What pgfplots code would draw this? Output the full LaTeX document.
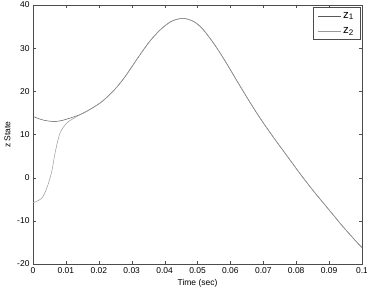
\documentclass[border=0pt]{standalone}
\usepackage{fontspec}
\setmainfont{Liberation Sans}
\usepackage{pgfplots}
\pgfplotsset{compat=1.18}
\pgfplotstableread{
t v
0 14.2
0.002 13.6
0.004 13.2
0.0067 13.0
0.0082 13.15
0.010 13.5
0.0143 14.6
0.0173 15.8
0.0204 17.3
0.023 19.0
0.0255 21.0
0.028 23.4
0.0305 26.2
0.033 29.0
0.0355 31.6
0.0386 34.2
0.042 36.2
0.0455 36.9
0.0485 36.3
0.051 34.9
0.0535 32.6
0.056 29.9
0.0585 26.9
0.061 23.7
0.0635 20.5
0.066 17.4
0.0685 14.4
0.071 11.6
0.0735 8.9
0.076 6.3
0.0785 3.7
0.081 1.1
0.0835 -1.4
0.086 -3.8
0.0885 -6.1
0.091 -8.4
0.0935 -10.7
0.096 -12.9
0.0985 -15.0
0.1 -16.2
}\zone
\pgfplotstableread{
t v
0 -5.8
0.0026 -4.8
0.0042 -2.4
0.0057 1.4
0.0067 5.7
0.0082 10.3
0.0102 12.6
0.0125 13.8
0.0143 14.6
0.0173 15.8
0.0204 17.3
0.023 19.0
0.0255 21.0
0.028 23.4
0.0305 26.2
0.033 29.0
0.0355 31.6
0.0386 34.2
0.042 36.2
0.0455 36.9
0.0485 36.3
0.051 34.9
0.0535 32.6
0.056 29.9
0.0585 26.9
0.061 23.7
0.0635 20.5
0.066 17.4
0.0685 14.4
0.071 11.6
0.0735 8.9
0.076 6.3
0.0785 3.7
0.081 1.1
0.0835 -1.4
0.086 -3.8
0.0885 -6.1
0.091 -8.4
0.0935 -10.7
0.096 -12.9
0.0985 -15.0
0.1 -16.2
}\ztwo
\begin{document}
\begin{tikzpicture}
\useasboundingbox (-33bp,-27bp) rectangle (334bp,264bp);
\begin{axis}[
  scale only axis,
  width=329bp, height=259bp,
  xmin=0, xmax=0.1, ymin=-20, ymax=40,
  xtick={0,0.01,...,0.1},
  xticklabels={0,0.01,0.02,0.03,0.04,0.05,0.06,0.07,0.08,0.09,0.1},
  ytick={-20,-10,0,10,20,30,40},
  /pgf/number format/assume math mode=true,
  tick label style={font=\fontsize{8.5}{10}\selectfont},
  label style={font=\fontsize{8.5}{10}\selectfont},
  xlabel={Time (sec)},
  ylabel={z State},
  xlabel style={yshift=1bp},
  ylabel style={yshift=0bp},
  tick align=inside,
  major tick length=3bp,
  axis line style={black!70},
  tick style={black!70},
  scaled x ticks=false,
  legend style={at={(1,1)}, anchor=north east, xshift=-2bp, yshift=-2.3bp,
    draw=black!70, font=\fontsize{11.5}{12}\selectfont,
    inner xsep=4bp, inner ysep=2.5bp,
    nodes={inner sep=2bp},
    row sep=4bp},
  legend cell align=left,
  legend image code/.code={\draw[#1] (0bp,0bp) -- (23bp,0bp);},
]
\addplot[black!65, line width=0.5bp, smooth] table[x=t,y=v]{\zone};
\addlegendentry{z\textsubscript{1}}
\addplot[black!40, line width=0.5bp, smooth] table[x=t,y=v]{\ztwo};
\addlegendentry{z\textsubscript{2}}
\end{axis}
\end{tikzpicture}
\end{document}
